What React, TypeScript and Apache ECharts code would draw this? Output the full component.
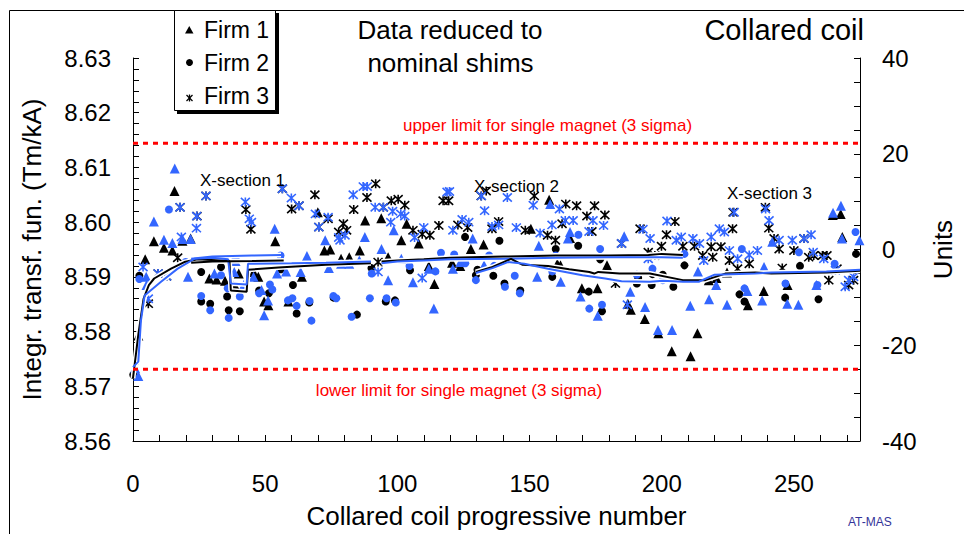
import React, { useEffect, useRef } from 'react';
import * as echarts from 'echarts';

const FONT = "'Liberation Sans', Arial, Helvetica, sans-serif";
const BLUE = '#3366ff';
const BLACK = '#000000';
const RED = '#ff0000';

// axis ranges
const xRange = [0, 275];
const yRange = [8.56, 8.63];
const unitsRange = [-40, 40];

// limits for single magnet (Tm/kA)
const upperLimit = 8.6144;
const lowerLimit = 8.5731;

// Firm 1 (triangles), aperture 1 (black) / aperture 2 (blue)
const firm1Black = [
  [2, 8.5793], [4.6, 8.5932], [7.9, 8.5965], [11.7, 8.5953], [14.9, 8.5948], [15.7, 8.6057], [18.7, 8.5966], [21.8, 8.597],
  [28.9, 8.5897], [31.6, 8.5895], [34.8, 8.5893], [37.7, 8.5885], [38.8, 8.5882], [40, 8.5906], [45.6, 8.5909], [47.4, 8.59],
  [49.6, 8.5855], [51.2, 8.5848], [53.8, 8.5965], [58.8, 8.5855], [63.9, 8.59], [65.8, 8.5935], [69.9, 8.6018], [72.4, 8.5948],
  [74.6, 8.595], [78.7, 8.5933], [81.8, 8.5936], [85.8, 8.5948], [87.8, 8.6003], [93.9, 8.6007], [96.5, 8.5936], [101.5, 8.5967],
  [103.5, 8.5997], [108.1, 8.5961], [111.9, 8.592], [114, 8.5887], [120.7, 8.5926], [123.8, 8.592], [127.8, 8.5951], [132.6, 8.5959],
  [150.5, 8.5988], [157.4, 8.6041], [160.5, 8.5924], [161.7, 8.5921], [165.3, 8.5971], [169.8, 8.5879], [175.7, 8.5879], [179.3, 8.5921],
  [187.2, 8.5851], [188.3, 8.584], [193.6, 8.5823], [198.7, 8.5797], [203.8, 8.5764], [210.9, 8.5755], [213.5, 8.5797], [217.8, 8.5894],
  [220.7, 8.5898], [224.7, 8.5908], [232.6, 8.5848], [238.6, 8.5874], [247.6, 8.5885], [264.7, 8.6013], [267.7, 8.6015], [268.3, 8.5973],
];
const firm1Blue = [
  [0.8, 8.5733], [2, 8.5719], [5.1, 8.5885], [5, 8.59], [7.9, 8.6001], [11.7, 8.5968], [14.9, 8.5962], [15.8, 8.6098],
  [18.7, 8.5969], [20.8, 8.59], [21.8, 8.5969], [30.8, 8.5906], [38.3, 8.5909], [38.8, 8.5929], [41.9, 8.5885], [45.6, 8.59],
  [48.6, 8.5876], [49.6, 8.583], [51.1, 8.5857], [53.6, 8.5988], [54.5, 8.5906], [57.9, 8.591], [63.4, 8.5909], [65.8, 8.5938],
  [72.7, 8.5967], [74.1, 8.5916], [78.7, 8.5924], [81.8, 8.5924], [85.6, 8.593], [87.7, 8.5973], [94, 8.5951], [96.5, 8.5894],
  [98.6, 8.5985], [101.5, 8.5933], [105.9, 8.589], [111.9, 8.5915], [113.8, 8.5842], [121, 8.5915], [123.8, 8.5927], [128.5, 8.597],
  [132.8, 8.5921], [152.9, 8.59], [153.5, 8.5957], [157.8, 8.6033], [161.8, 8.5891], [164.5, 8.597], [165.3, 8.5982], [169.3, 8.5864],
  [175.8, 8.5829], [185.8, 8.5974], [188.1, 8.5873], [193.7, 8.5845], [198.6, 8.5803], [203.9, 8.5803], [210.8, 8.5847], [213.7, 8.591],
  [217.9, 8.5859], [220.6, 8.5885], [224.7, 8.5849], [232.4, 8.5874], [238, 8.5857], [238.7, 8.5918], [241.8, 8.5964], [247.5, 8.5851],
  [251.7, 8.5849], [258.5, 8.5885], [264.8, 8.6017], [267.8, 8.603], [268.2, 8.597], [274.8, 8.5967],
];

// Firm 2 (circles)
const firm2Black = [
  [0.1, 8.5721], [2.4, 8.5902], [25.8, 8.5909], [25.8, 8.5855], [29.2, 8.5851], [33.3, 8.5918], [35.6, 8.5864], [36.2, 8.5839],
  [40.4, 8.5837], [47.7, 8.5875], [51.4, 8.587], [55.9, 8.5914], [60.5, 8.5885], [61.9, 8.5833], [66.7, 8.5853], [75.9, 8.5862],
  [84.7, 8.5831], [90.2, 8.5916], [95.6, 8.5855], [99.1, 8.5857], [104.8, 8.5912], [125.6, 8.5973], [129.7, 8.5903], [130.3, 8.5913],
  [136.3, 8.5902], [138.6, 8.5966], [140.5, 8.5888], [146.5, 8.5875], [158.6, 8.59], [159.9, 8.5951], [168.4, 8.5957], [172.4, 8.5873],
  [176.7, 8.5932], [177.4, 8.5837], [190.6, 8.5888], [191.1, 8.5898], [196.2, 8.5885], [196.5, 8.5905], [200.4, 8.5904], [204.4, 8.5882],
  [208.6, 8.5921], [229.4, 8.5868], [231.3, 8.5855], [246.7, 8.5862], [252.3, 8.592], [259.3, 8.5859], [273.5, 8.5942],
];
const firm2Blue = [
  [2.4, 8.5896], [13.6, 8.6023], [19.9, 8.5927], [25.8, 8.5865], [29.2, 8.5839], [33.3, 8.5903], [35.8, 8.5879], [36.2, 8.5825],
  [38.8, 8.5933], [40.4, 8.5864], [47.7, 8.587], [51.8, 8.5886], [52.7, 8.5877], [55.8, 8.5939], [58.6, 8.5857], [60.3, 8.5861],
  [61.9, 8.5847], [66.8, 8.5856], [67.5, 8.582], [75.8, 8.5865], [76.9, 8.5861], [82.7, 8.5827], [89.6, 8.5861], [90.3, 8.5906],
  [95.9, 8.5861], [99.4, 8.5853], [104.6, 8.592], [114.4, 8.591], [116.5, 8.5944], [121.5, 8.5941], [125.7, 8.5925], [129.7, 8.5894],
  [134.7, 8.5939], [136.6, 8.592], [140.7, 8.5882], [144.4, 8.5902], [146.3, 8.587], [158.6, 8.591], [159.9, 8.5939], [168.5, 8.5977],
  [172.6, 8.5842], [176.7, 8.5951], [177.4, 8.5849], [190.6, 8.5904], [196.5, 8.5915], [200.4, 8.5894], [208.6, 8.5942], [230.3, 8.5951],
  [231.3, 8.5879], [246.8, 8.5888], [251.9, 8.5945], [258.9, 8.5885], [265.4, 8.5924], [273.3, 8.5982],
];

// Firm 3 (stars)
const firm3Black = [
  [5.8, 8.5851], [9.5, 8.5906], [12.7, 8.5901], [16.9, 8.5935], [17.8, 8.6027], [24.2, 8.6011], [27.6, 8.6048], [42.7, 8.6023],
  [44.6, 8.5987], [56.5, 8.6061], [60, 8.6024], [62.8, 8.603], [68.8, 8.605], [70.3, 8.5991], [73.8, 8.6006], [77.8, 8.5982],
  [79.6, 8.5997], [80.8, 8.5985], [83.5, 8.6023], [88.5, 8.6045], [91.8, 8.607], [92.7, 8.5927], [94.7, 8.6027], [97.7, 8.6039],
  [100.3, 8.6042], [102.8, 8.6031], [105.9, 8.5985], [109.4, 8.5978], [112.3, 8.5976], [115.7, 8.5994], [117.3, 8.6039], [119.4, 8.6039],
  [122.9, 8.5995], [126.6, 8.599], [131.7, 8.6048], [133.6, 8.6057], [135.8, 8.5988], [138.3, 8.6001], [148.4, 8.5985], [151.8, 8.6048],
  [156.8, 8.5976], [159.8, 8.5967], [162.3, 8.5997], [163.7, 8.6033], [167.8, 8.603], [171.7, 8.6011], [173.6, 8.5983], [174.6, 8.603],
  [178.5, 8.6013], [182.5, 8.5888], [184.8, 8.5961], [191.8, 8.5988], [194.9, 8.5945], [197.4, 8.5939], [199.9, 8.5956], [201.8, 8.5977],
  [205, 8.6001], [208, 8.5956], [212.4, 8.5956], [215.5, 8.5939], [218.7, 8.5955], [219.3, 8.5936], [222.4, 8.5955], [225.6, 8.593],
  [226.8, 8.5988], [227, 8.6018], [228.7, 8.5915], [233.1, 8.5924], [239.2, 8.6027], [240.5, 8.5989], [242.5, 8.597], [244.4, 8.5951],
  [245.6, 8.5916], [250, 8.5948], [253.8, 8.597], [255.6, 8.5936], [257.5, 8.5939], [260.8, 8.5939], [262.5, 8.5939], [263.2, 8.5894],
  [266.3, 8.5915], [270.7, 8.5885], [272.6, 8.5894],
];
const firm3Blue = [
  [3.8, 8.5918], [5.8, 8.586], [9.5, 8.5906], [12.7, 8.5901], [17.8, 8.6027], [18.3, 8.5973], [24.1, 8.6011], [24, 8.5989],
  [27.6, 8.6048], [42.5, 8.6037], [44, 8.6006], [44.8, 8.6], [56.5, 8.6061], [59.9, 8.6044], [62.8, 8.603], [69, 8.6015],
  [70.3, 8.5991], [73.8, 8.6009], [77.8, 8.5972], [78.3, 8.5967], [80.2, 8.5976], [83.3, 8.605], [87.1, 8.6065], [88.6, 8.6065],
  [91.6, 8.6027], [92.7, 8.5909], [94.7, 8.6027], [97.5, 8.6], [98.2, 8.602], [101.3, 8.6015], [102.8, 8.6011], [106.5, 8.5972],
  [109.4, 8.5898], [110, 8.599], [118.8, 8.6055], [119.7, 8.6056], [121, 8.5985], [124.5, 8.6005], [127, 8.6], [131.8, 8.6048],
  [133, 8.6021], [135.8, 8.5992], [138.3, 8.5995], [141.6, 8.6045], [145, 8.599], [151.4, 8.6031], [154, 8.598], [158.5, 8.5995],
  [161.3, 8.6024], [163.5, 8.6003], [166.5, 8.6003], [172.5, 8.5983], [174, 8.6003], [178, 8.5994], [184.8, 8.5961], [187, 8.5849],
  [192.9, 8.5987], [194.9, 8.5933], [195.6, 8.597], [202, 8.6002], [205.5, 8.5967], [207.4, 8.5973], [211.8, 8.597], [214.3, 8.5961],
  [215.9, 8.593], [218.7, 8.5973], [221.8, 8.5988], [223.7, 8.5982], [225.6, 8.5948], [227.4, 8.6018], [228.7, 8.5933], [233.1, 8.594],
  [236.2, 8.5948], [239.3, 8.6024], [240.6, 8.6003], [244.4, 8.5967], [249.4, 8.5967], [253.8, 8.597], [256.5, 8.5977], [257.3, 8.5945],
  [261.3, 8.5933], [265.7, 8.5912], [269.4, 8.5882], [270.7, 8.5894], [272.6, 8.59],
];

// running-average lines, aperture 1 (black) / aperture 2 (blue)
const avgBlackA = [
  [0, 8.5715], [2, 8.5794], [4, 8.586], [6, 8.5885], [8, 8.5897], [14.4, 8.5915], [19.4, 8.5927], [24.4, 8.5932],
  [36.5, 8.5929], [37, 8.5875], [43, 8.5873], [43.5, 8.5913], [55, 8.5917], [73, 8.5922], [90, 8.5925],
];
const avgBlueA = [
  [0, 8.5735], [2, 8.5745], [3, 8.582], [4.4, 8.5866], [10.6, 8.5891], [16.9, 8.5915], [23.2, 8.5933], [30, 8.5935],
  [36, 8.5932], [37, 8.5888], [43, 8.5886], [43.5, 8.5924], [60, 8.5925], [73, 8.5926], [90, 8.5928],
];
const avgBlackB = [[22, 8.5926], [30, 8.5928], [45, 8.5929], [57, 8.593]];
const avgBlueB = [[22, 8.5933], [30, 8.5937], [45, 8.5939], [56, 8.594]];
const avgBlackC = [
  [94, 8.5928], [100, 8.593], [110, 8.5932], [120, 8.5935], [140, 8.5937], [160, 8.5939], [180, 8.5939], [195, 8.594],
  [200, 8.5942], [208, 8.594],
];
const avgBlueC = [
  [94, 8.5925], [100, 8.5928], [110, 8.593], [120, 8.5932], [140, 8.5933], [160, 8.5935], [180, 8.5936], [195, 8.5936],
  [200, 8.5936], [208, 8.5935],
];
const avgBlackD = [
  [129.7, 8.5909], [136, 8.5918], [143, 8.5933], [147.4, 8.5922], [157, 8.592], [165, 8.5914], [172.6, 8.5909], [174.5, 8.5906],
  [176, 8.5909], [184, 8.5906], [195.5, 8.5906], [208, 8.5894], [216.5, 8.5894], [220.3, 8.59], [224, 8.5906], [235.4, 8.5908],
  [241.5, 8.5906], [262.3, 8.5908], [275, 8.5911],
];
const avgBlueD = [
  [129.7, 8.5907], [136, 8.5916], [141.8, 8.5927], [148, 8.5924], [157, 8.5915], [170, 8.5903], [178.6, 8.5897], [184.8, 8.5892],
  [195.5, 8.5891], [200.5, 8.5893], [208, 8.5891], [214, 8.5891], [220, 8.5904], [235.4, 8.5906], [241.5, 8.5908], [262.3, 8.591],
  [275, 8.5913],
];

const legendNames = ['Firm 1', 'Firm 2', 'Firm 3'];
const STAR = 'path://M0,0L10,10M10,0L0,10M5,-0.5L5,10.5';

function scatter(name: string, data: number[][], symbol: string, size: number, color: string) {
  const isPath = symbol.startsWith('path');
  return {
    type: 'scatter',
    name,
    data,
    symbol,
    symbolSize: size,
    itemStyle: isPath
      ? { color: 'none', borderColor: color, borderWidth: 1.6, opacity: 1 }
      : { color, opacity: 1 },
    z: 2,
  };
}

function avgLine(data: number[][], color: string) {
  return [
    { type: 'line', data, symbol: 'none', silent: true, lineStyle: { color: '#ffffff', width: 5, opacity: 1 }, z: 3 },
    { type: 'line', data, symbol: 'none', silent: true, lineStyle: { color, width: 2, opacity: 1 }, z: 4 },
  ];
}

function limitLine(value: number) {
  return {
    type: 'line',
    data: [[xRange[0], value], [xRange[1], value]],
    symbol: 'none',
    silent: true,
    lineStyle: { color: RED, width: 3, type: [5, 5] },
    z: 5,
  };
}

function txt(text: string, x: number, y: number, size: number, align = 'left', color = BLACK) {
  return {
    type: 'text',
    z: 20,
    style: { text, x, y, fill: color, font: `${size}px ${FONT}`, textAlign: align, textVerticalAlign: 'middle' },
  };
}

export default function App() {
  const ref = useRef<HTMLDivElement>(null);

  useEffect(() => {
    document.body.style.margin = '0';
    if (!ref.current) return;
    const chart = echarts.init(ref.current, undefined, { renderer: 'svg' });
    const axisCommon = {
      axisLine: { show: true, onZero: false, lineStyle: { color: BLACK, width: 1 } },
      axisTick: { show: true, inside: true, length: 6, lineStyle: { color: BLACK } },
      splitLine: { show: false },
      minorSplitLine: { show: false },
    };
    const lbl = { color: BLACK, fontSize: 24, fontFamily: FONT };
    const nameStyle = { color: BLACK, fontSize: 26, fontFamily: FONT };

    const option = {
      animation: false,
      backgroundColor: '#ffffff',
      grid: { left: 133, right: 101, top: 58, bottom: 91, show: false },
      xAxis: {
        type: 'value',
        min: xRange[0],
        max: xRange[1],
        interval: 10,
        ...axisCommon,
        axisLabel: { ...lbl, margin: 30, formatter: (v: number) => (Math.round(v) % 50 === 0 ? String(Math.round(v)) : '') },
        name: 'Collared coil progressive number',
        nameLocation: 'middle',
        nameGap: 62,
        nameTextStyle: nameStyle,
      },
      yAxis: [
        {
          type: 'value',
          position: 'left',
          min: yRange[0],
          max: yRange[1],
          interval: 0.01,
          ...axisCommon,
          minorTick: { show: true, splitNumber: 5, length: 6, lineStyle: { color: BLACK } },
          axisLabel: { ...lbl, margin: 22, formatter: (v: number) => v.toFixed(2) },
          name: 'Integr. transf. fun. (Tm/kA)',
          nameLocation: 'middle',
          nameGap: 88,
          nameTextStyle: nameStyle,
        },
        {
          type: 'value',
          position: 'right',
          min: unitsRange[0],
          max: unitsRange[1],
          interval: 20,
          ...axisCommon,
          minorTick: { show: true, splitNumber: 4, length: 6, lineStyle: { color: BLACK } },
          axisLabel: { ...lbl, margin: 22 },
          name: 'Units',
          nameLocation: 'middle',
          nameGap: 70,
          nameTextStyle: nameStyle,
        },
      ],
      series: [
        scatter('Firm 1', firm1Black, 'triangle', 10, BLACK),
        scatter('Firm 2', firm2Black, 'circle', 8, BLACK),
        scatter('Firm 3', firm3Black, STAR, 9, BLACK),
        scatter('Firm 1 (ap. 2)', firm1Blue, 'triangle', 10, BLUE),
        scatter('Firm 2 (ap. 2)', firm2Blue, 'circle', 8, BLUE),
        scatter('Firm 3 (ap. 2)', firm3Blue, STAR, 9, BLUE),
        ...avgLine(avgBlackA, BLACK),
        ...avgLine(avgBlueA, BLUE),
        ...avgLine(avgBlackB, BLACK),
        ...avgLine(avgBlueB, BLUE),
        ...avgLine(avgBlackC, BLACK),
        ...avgLine(avgBlueC, BLUE),
        ...avgLine(avgBlackD, BLACK),
        ...avgLine(avgBlueD, BLUE),
        limitLine(upperLimit),
        limitLine(lowerLimit),
      ],
      graphic: [
        { type: 'rect', z: 1, silent: true, shape: { x: 9.5, y: 10.5, width: 1000, height: 600 }, style: { fill: 'none', stroke: BLACK, lineWidth: 1 } },
        { type: 'rect', z: 18, shape: { x: 177, y: 13, width: 102, height: 101 }, style: { fill: BLACK } },
        { type: 'rect', z: 19, shape: { x: 174.5, y: 10.5, width: 101, height: 100 }, style: { fill: '#ffffff', stroke: BLACK, lineWidth: 1 } },
        { type: 'polygon', z: 20, shape: { points: [[185, 33.5], [193.5, 33.5], [189.25, 26]] }, style: { fill: BLACK } },
        { type: 'circle', z: 20, shape: { cx: 189.5, cy: 62.5, r: 3.5 }, style: { fill: BLACK } },
        { type: 'line', z: 20, shape: { x1: 186.5, y1: 95, x2: 192.5, y2: 101 }, style: { stroke: BLACK, lineWidth: 1.3 } },
        { type: 'line', z: 20, shape: { x1: 192.5, y1: 95, x2: 186.5, y2: 101 }, style: { stroke: BLACK, lineWidth: 1.3 } },
        { type: 'line', z: 20, shape: { x1: 189.5, y1: 94.5, x2: 189.5, y2: 101.5 }, style: { stroke: BLACK, lineWidth: 1.3 } },
        txt(legendNames[0], 204, 29.5, 23),
        txt(legendNames[1], 204, 62.5, 23),
        txt(legendNames[2], 204, 96, 23),
        txt('Data reduced to', 450, 30, 26, 'center'),
        txt('nominal shims', 450.5, 63, 26, 'center'),
        txt('Collared coil', 864, 29.5, 29, 'right'),
        txt('upper limit for single magnet (3 sigma)', 547.5, 125.5, 17, 'center', RED),
        txt('lower limit for single magnet (3 sigma)', 459, 390, 17, 'center', RED),
        txt('X-section 1', 200, 180.5, 17),
        txt('X-section 2', 474, 186.5, 17),
        txt('X-section 3', 727, 193.5, 17),
        txt('AT-MAS', 848, 521.5, 12, 'left', '#333399'),
      ],
    };
    chart.setOption(option as any);
    return () => chart.dispose();
  }, []);

  return <div ref={ref} style={{ width: 964, height: 534 }} />;
}
